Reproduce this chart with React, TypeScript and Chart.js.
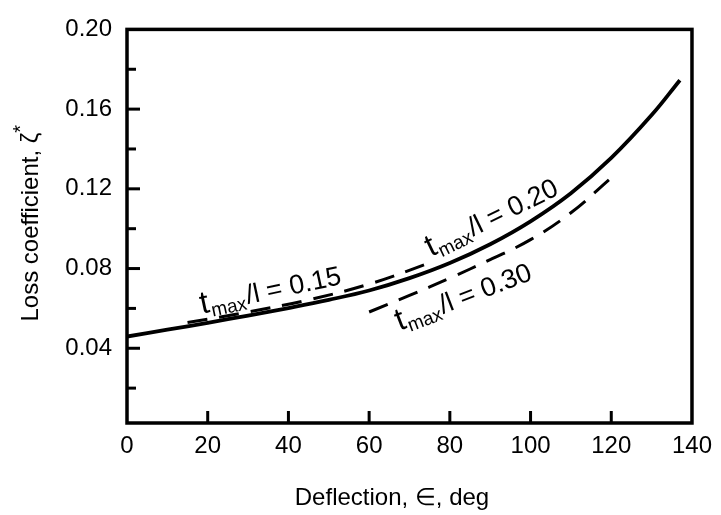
import { useEffect, useRef } from "react";
import { Chart, registerables } from "chart.js";

Chart.register(...registerables);

// t_max/l = 0.20 (solid)
const deflection020 = [0, 10, 20, 30, 40, 50, 60, 70, 80, 90, 100, 110, 120, 130, 137];
const loss020 = [0.0459, 0.0493, 0.0528, 0.0564, 0.0602, 0.0643, 0.069, 0.0752, 0.0828, 0.0922, 0.1037, 0.1178, 0.1355, 0.157, 0.1745];

// t_max/l = 0.15 (dashed, upper)
const deflection015 = [15, 30, 45, 60, 75];
const loss015 = [0.0529, 0.0582, 0.0643, 0.0722, 0.0828];

// t_max/l = 0.30 (dashed, lower)
const deflection030 = [60, 70, 80, 90, 100, 110, 120];
const loss030 = [0.0582, 0.0665, 0.0752, 0.0845, 0.0945, 0.108, 0.1255];

const xTickStep = 20;
const yTickValues = [0.02, 0.04, 0.06, 0.08, 0.1, 0.12, 0.14, 0.16, 0.18, 0.2];

const xTitle = "Deflection, \u2208, deg";
const yTitle = "Loss coefficient, \u03B6";
const yTitleSup = "*";

const curveLabels = [
  { suffix: "/l = 0.15", x: 18.6, y: 0.0573, angle: -12 },
  { suffix: "/l = 0.20", x: 75.3, y: 0.0858, angle: -26 },
  { suffix: "/l = 0.30", x: 67.5, y: 0.0488, angle: -21 },
];

const FONT = "'Liberation Sans', Arial, Helvetica, sans-serif";
const INK = "#000";

const isLabelled = (v: number) => Math.round(v * 100) % 4 === 0;

const bgPlugin = {
  id: "bg",
  beforeDraw(chart: any) {
    const ctx = chart.ctx;
    ctx.save();
    ctx.fillStyle = "#fff";
    ctx.fillRect(0, 0, chart.width, chart.height);
    ctx.restore();
  },
};

const framePlugin = {
  id: "frame",
  afterDraw(chart: any) {
    const { ctx, chartArea: a, scales } = chart;
    ctx.save();
    ctx.strokeStyle = INK;
    ctx.lineCap = "butt";
    // inward tick marks
    ctx.lineWidth = 3;
    const ys = scales.y;
    ys.ticks.forEach((t: any) => {
      if (t.value >= ys.max - 1e-9) return;
      const py = ys.getPixelForValue(t.value);
      const len = isLabelled(t.value) ? 13 : 9;
      ctx.beginPath();
      ctx.moveTo(a.left, py);
      ctx.lineTo(a.left + len, py);
      ctx.stroke();
    });
    const xs = scales.x;
    xs.ticks.forEach((t: any) => {
      if (t.value <= xs.min || t.value >= xs.max) return;
      const px = xs.getPixelForValue(t.value);
      ctx.beginPath();
      ctx.moveTo(px, a.bottom);
      ctx.lineTo(px, a.bottom - 12);
      ctx.stroke();
    });
    // frame
    ctx.lineWidth = 3.5;
    ctx.lineJoin = "miter";
    ctx.strokeRect(a.left, a.top, a.right - a.left, a.bottom - a.top);

    // curve labels
    ctx.fillStyle = INK;
    ctx.textBaseline = "alphabetic";
    ctx.textAlign = "left";
    curveLabels.forEach((l) => {
      const px = xs.getPixelForValue(l.x);
      const py = ys.getPixelForValue(l.y);
      ctx.save();
      ctx.translate(px, py);
      ctx.rotate((l.angle * Math.PI) / 180);
      ctx.font = `32px ${FONT}`;
      ctx.fillText("t", 0, 0);
      let w = ctx.measureText("t").width + 1;
      ctx.font = `19px ${FONT}`;
      ctx.fillText("max", w, 5);
      w += ctx.measureText("max").width + 1;
      ctx.font = `27px ${FONT}`;
      ctx.fillText(l.suffix, w, 0);
      ctx.restore();
    });

    // axis titles
    ctx.font = `24px ${FONT}`;
    ctx.textAlign = "center";
    ctx.textBaseline = "middle";
    ctx.fillText(xTitle, a.left + 265, a.bottom + 75);

    ctx.save();
    ctx.translate(31, (a.top + a.bottom) / 2 - 3);
    ctx.rotate(-Math.PI / 2);
    ctx.font = `24px ${FONT}`;
    const mainW = ctx.measureText(yTitle).width;
    ctx.font = `20px ${FONT}`;
    const supW = ctx.measureText(yTitleSup).width;
    const total = mainW + supW;
    ctx.textAlign = "left";
    ctx.font = `24px ${FONT}`;
    ctx.fillText(yTitle, -total / 2, 0);
    ctx.font = `20px ${FONT}`;
    ctx.fillText(yTitleSup, -total / 2 + mainW, -10);
    ctx.restore();

    ctx.restore();
  },
};

export default function App() {
  const ref = useRef<HTMLCanvasElement | null>(null);
  useEffect(() => {
    const canvas = ref.current;
    if (!canvas) return;
    const toPts = (xs: number[], ys: number[]) => xs.map((x, i) => ({ x, y: ys[i] }));
    const common = { borderColor: INK, pointRadius: 0, tension: 0.4, fill: false };
    const chart = new Chart(canvas, {
      type: "line",
      data: {
        datasets: [
          { ...common, label: "tmax/l = 0.20", data: toPts(deflection020, loss020), borderWidth: 3.8 },
          { ...common, label: "tmax/l = 0.15", data: toPts(deflection015, loss015), borderWidth: 3, borderDash: [20, 12] },
          { ...common, label: "tmax/l = 0.30", data: toPts(deflection030, loss030), borderWidth: 3, borderDash: [20, 12] },
        ],
      } as any,
      options: {
        responsive: false,
        animation: false,
        devicePixelRatio: 1,
        layout: { padding: { top: 22, right: 22, left: 0, bottom: 0 } },
        plugins: { legend: { display: false }, tooltip: { enabled: false } },
        scales: {
          x: {
            type: "linear",
            min: 0,
            max: 140,
            ticks: {
              stepSize: xTickStep,
              font: { family: FONT, size: 24 },
              color: INK,
              padding: 9,
            },
            grid: { display: false, drawTicks: false },
            border: { display: false },
            afterFit: (s: any) => {
              s.height = 92;
            },
          },
          y: {
            type: "linear",
            min: 0.0025,
            max: 0.2,
            afterBuildTicks: (s: any) => {
              s.ticks = yTickValues.map((v) => ({ value: v }));
            },
            ticks: {
              autoSkip: false,
              callback: (v: any) => (isLabelled(Number(v)) ? Number(v).toFixed(2) : ""),
              font: { family: FONT, size: 24 },
              color: INK,
              padding: 15,
            },
            grid: { display: false, drawTicks: false },
            border: { display: false },
            afterFit: (s: any) => {
              s.width = 127;
            },
          },
        },
      } as any,
      plugins: [bgPlugin, framePlugin],
    });
    return () => chart.destroy();
  }, []);
  return (
    <div style={{ position: "fixed", left: 0, top: 0, width: 721, height: 515, background: "#fff" }}>
      <canvas ref={ref} width={721} height={515} style={{ display: "block", width: 721, height: 515 }} />
    </div>
  );
}
